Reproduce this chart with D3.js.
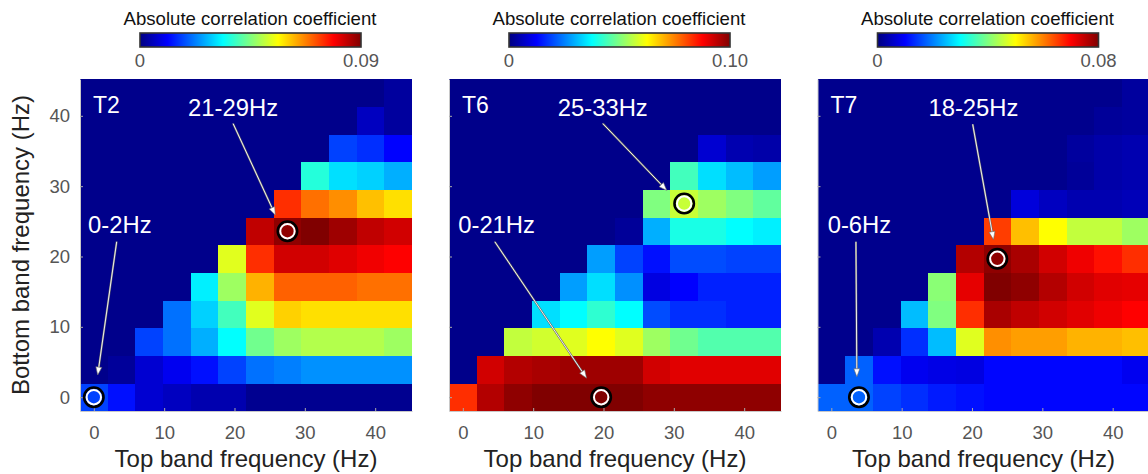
<!DOCTYPE html>
<html><head><meta charset="utf-8">
<script src="https://cdn.jsdelivr.net/npm/d3@7"></script>
<style>
body{margin:0;background:#fff}
svg text{font-family:"Liberation Sans",Arial,Helvetica,sans-serif}
</style>
</head><body>
<svg id="chart" width="1148" height="474"></svg>
<script>
// ---------- data ----------
// frequency bins (Hz), shared by both axes
const binCentersHz = [0, 3.93, 7.87, 11.8, 15.73, 19.67, 23.6, 27.53, 31.47, 35.4, 39.33, 43.27];
const xTicks = [0, 10, 20, 30, 40];
const yTicks = [0, 10, 20, 30, 40];
const panelNames = ["T2", "T6", "T7"];
const colorMax = [0.09, 0.10, 0.08];
const colorMaxLabels = ["0.09", "0.10", "0.08"];
const colorbarTitle = "Absolute correlation coefficient";
const xTitle = "Top band frequency (Hz)";
const yTitle = "Bottom band frequency (Hz)";

// matrices: rows = bottom band bin (row 0 = 0 Hz), columns = top band bin
const b = 0.001;
const valuesT2 = [
  [0.0171,0.0126,0.0072,0.0057,0.0042,0.0042,0.0014,0.0014,0.0014,0.0014,0.0014,0.0014],
  [b,0.0023,0.0072,0.0099,0.0126,0.0171,0.0212,0.0225,0.024,0.024,0.024,0.024],
  [b,b,0.0171,0.0212,0.0267,0.0338,0.0437,0.0477,0.0495,0.0495,0.0495,0.0477],
  [b,b,b,0.0212,0.0297,0.0396,0.0536,0.0603,0.059,0.059,0.059,0.059],
  [b,b,b,b,0.0324,0.0477,0.063,0.0702,0.0702,0.0702,0.0689,0.0689],
  [b,b,b,b,b,0.0536,0.0747,0.0828,0.0828,0.0815,0.080,0.0788],
  [b,b,b,b,b,b,0.0843,0.0887,0.090,0.0873,0.0843,0.0828],
  [b,b,b,b,b,b,b,0.0747,0.0689,0.0662,0.0618,0.059],
  [b,b,b,b,b,b,b,b,0.0369,0.031,0.0297,0.0267],
  [b,b,b,b,b,b,b,b,b,0.017,0.0153,0.0113],
  [b,b,b,b,b,b,b,b,b,b,0.0057,0.0027],
  [b,b,b,b,b,b,b,b,b,b,b,0.0027]
];
const valuesT6 = [
  [0.083,0.095,0.0985,0.100,0.100,0.100,0.100,0.0985,0.0985,0.0985,0.0985,0.0985],
  [b,0.092,0.095,0.096,0.097,0.097,0.097,0.092,0.0905,0.0905,0.0905,0.0905],
  [b,b,0.0565,0.058,0.0595,0.0625,0.0595,0.053,0.0485,0.0455,0.0455,0.0455],
  [b,b,b,0.0344,0.0375,0.042,0.0375,0.020,0.017,0.017,0.0156,0.0156],
  [b,b,b,b,0.028,0.0344,0.0266,0.0095,0.0125,0.0156,0.0156,0.0156],
  [b,b,b,b,b,0.028,0.019,0.014,0.020,0.020,0.019,0.019],
  [b,b,b,b,b,b,0.0025,0.0297,0.040,0.040,0.0375,0.036],
  [b,b,b,b,b,b,b,0.050,0.057,0.053,0.050,0.047],
  [b,b,b,b,b,b,b,b,0.044,0.0344,0.031,0.028],
  [b,b,b,b,b,b,b,b,b,0.008,0.0047,0.004],
  [b,b,b,b,b,b,b,b,b,b,b,b],
  [b,b,b,b,b,b,b,b,b,b,b,b]
];
const valuesT7 = [
  [0.0176,0.0176,0.0152,0.0136,0.012,0.0112,0.0104,0.0104,0.0104,0.0104,0.0104,0.0104],
  [b,0.0176,0.0112,0.0088,0.008,0.0076,0.0104,0.0104,0.0104,0.0104,0.0104,0.0088],
  [b,b,0.0038,0.0136,0.0248,0.0476,0.0588,0.0576,0.0576,0.056,0.056,0.055],
  [b,b,b,0.0248,0.040,0.0664,0.0768,0.075,0.0736,0.0724,0.0712,0.070],
  [b,b,b,b,0.0408,0.072,0.080,0.0788,0.076,0.0736,0.0724,0.072],
  [b,b,b,b,b,0.076,0.0788,0.0768,0.0736,0.0712,0.0688,0.0664],
  [b,b,b,b,b,b,0.0652,0.055,0.050,0.0452,0.0452,0.0424],
  [b,b,b,b,b,b,b,0.0072,0.005,0.0038,0.0038,0.0044],
  [b,b,b,b,b,b,b,b,b,0.002,0.0032,0.0038],
  [b,b,b,b,b,b,b,b,b,0.0024,0.0032,0.0038],
  [b,b,b,b,b,b,b,b,b,b,0.002,0.0024],
  [b,b,b,b,b,b,b,b,b,b,b,0.0024]
];
const panelValues = [valuesT2, valuesT6, valuesT7];

// annotations (text anchor, arrow start and tip in Hz; marked cell [col,row])
const annotationsT2 = [
  {label:"21-29Hz", cell:[7,6], text:[19.8,40.0], from:[19.8,38.9], to:[25.8,25.9]},
  {label:"0-2Hz",   cell:[0,0], text:[3.7,23.3],  from:[3.25,22.1], to:[0.55,3.15]}
];
const annotationsT6 = [
  {label:"25-33Hz", cell:[8,7], text:[19.9,40.0], from:[19.9,38.9], to:[29.0,29.4]},
  {label:"0-21Hz",  cell:[5,0], text:[4.8,23.4],  from:[4.55,22.1], to:[17.6,2.7]}
];
const annotationsT7 = [
  {label:"18-25Hz", cell:[6,5], text:[20.2,40.0], from:[20.1,38.8], to:[23.05,22.4]},
  {label:"0-6Hz",   cell:[1,0], text:[4.0,23.4],  from:[3.5,22.1],  to:[3.63,2.9]}
];
const panelAnnotations = [annotationsT2, annotationsT6, annotationsT7];

// ---------- layout ----------
const svg = d3.select("#chart");
const plotW = 332, plotH = 332, plotTop = 79;
const panelLefts = [80, 449, 817.5];
const halfStep = (binCentersHz[1] - binCentersHz[0]) / 2;
const domain = [binCentersHz[0] - halfStep, binCentersHz[binCentersHz.length - 1] + halfStep];

const jetStops = [0, 0.125, 0.375, 0.625, 0.875, 1];
const jetColors = ["#000080", "#0000ff", "#00ffff", "#ffff00", "#ff0000", "#800000"];

const defs = svg.append("defs");

panelNames.forEach((name, p) => {
  const left = panelLefts[p];
  const vmax = colorMax[p];
  const color = d3.scaleLinear().domain(jetStops.map(s => s * vmax)).range(jetColors).clamp(true);
  const x = d3.scaleLinear().domain(domain).range([0, plotW]);
  const y = d3.scaleLinear().domain(domain).range([plotH, 0]);

  // colorbar
  const cbX = left + 60, cbY = 33, cbW = 221, cbH = 14;
  const grad = defs.append("linearGradient").attr("id", "jet" + p).attr("x1", "0%").attr("x2", "100%");
  jetStops.forEach((s, i) => grad.append("stop").attr("offset", (s * 100) + "%").attr("stop-color", jetColors[i]));
  svg.append("rect").attr("x", cbX).attr("y", cbY).attr("width", cbW).attr("height", cbH)
    .attr("fill", `url(#jet${p})`).attr("stroke", "#333").attr("stroke-width", 1.6);
  svg.append("text").attr("x", left + 170).attr("y", 25).attr("text-anchor", "middle")
    .attr("font-size", 18.6).attr("fill", "#111").text(colorbarTitle);
  svg.append("text").attr("x", cbX).attr("y", 67).attr("text-anchor", "middle")
    .attr("font-size", 18.5).attr("fill", "#555").text("0");
  svg.append("text").attr("x", cbX + cbW).attr("y", 67).attr("text-anchor", "middle")
    .attr("font-size", 18.5).attr("fill", "#555").text(colorMaxLabels[p]);

  const g = svg.append("g").attr("transform", `translate(${left},${plotTop})`);

  // cells
  const cells = [];
  panelValues[p].forEach((row, r) => row.forEach((v, c) => cells.push({r, c, v})));
  g.append("g").selectAll("rect").data(cells).join("rect")
    .attr("x", d => x(binCentersHz[d.c] - halfStep))
    .attr("y", d => y(binCentersHz[d.r] + halfStep))
    .attr("width", d => x(binCentersHz[d.c] + halfStep) - x(binCentersHz[d.c] - halfStep) + 0.4)
    .attr("height", d => y(binCentersHz[d.r] - halfStep) - y(binCentersHz[d.r] + halfStep) + 0.4)
    .attr("fill", d => color(d.v))
    .attr("shape-rendering", "crispEdges");

  // axes
  const xa = g.append("g").attr("transform", `translate(0,${plotH})`)
    .call(d3.axisBottom(x).tickValues(xTicks).tickSizeInner(-3).tickSizeOuter(0).tickPadding(15));
  const ya = g.append("g")
    .call(d3.axisLeft(y).tickValues(yTicks).tickSizeInner(-3).tickSizeOuter(0).tickPadding(10)
      .tickFormat(p === 0 ? d3.format("d") : () => ""));
  [xa, ya].forEach(a => {
    a.select(".domain").attr("stroke", "#c8c8c8");
    a.selectAll(".tick line").attr("stroke", "#aaa");
    a.selectAll(".tick text").attr("font-size", 18.5).attr("fill", "#555")
      .attr("font-family", '"Liberation Sans",Arial,sans-serif');
  });

  // panel label
  g.append("text").attr("x", 13).attr("y", 34).attr("font-size", 23).attr("fill", "#fff").text(name);

  // annotations
  panelAnnotations[p].forEach(a => {
    const x1 = x(a.from[0]), y1 = y(a.from[1]), x2 = x(a.to[0]), y2 = y(a.to[1]);
    const ang = Math.atan2(y2 - y1, x2 - x1);
    const L = 8, W = 3;
    const bx = x2 - L * Math.cos(ang), by = y2 - L * Math.sin(ang);
    g.append("line").attr("x1", x1).attr("y1", y1).attr("x2", bx).attr("y2", by)
      .attr("stroke", "#666").attr("stroke-width", 2);
    g.append("line").attr("x1", x1).attr("y1", y1).attr("x2", bx).attr("y2", by)
      .attr("stroke", "#fff").attr("stroke-width", 0.9);
    const pts = [[x2, y2],
      [bx + W * Math.sin(ang), by - W * Math.cos(ang)],
      [bx - W * Math.sin(ang), by + W * Math.cos(ang)]];
    g.append("polygon").attr("points", pts.map(q => q.join(",")).join(" "))
      .attr("fill", "#fff").attr("stroke", "#666").attr("stroke-width", 0.6);
    g.append("text").attr("x", x(a.text[0])).attr("y", y(a.text[1])).attr("text-anchor", "middle")
      .attr("font-size", 23.8).attr("fill", "#fff").text(a.label);
    const cx = x(binCentersHz[a.cell[0]]), cy = y(binCentersHz[a.cell[1]]);
    const cv = panelValues[p][a.cell[1]][a.cell[0]];
    g.append("circle").attr("cx", cx).attr("cy", cy).attr("r", 9.7)
      .attr("fill", "none").attr("stroke", "#000").attr("stroke-width", 2.6);
    g.append("circle").attr("cx", cx).attr("cy", cy).attr("r", 7.2)
      .attr("fill", color(cv)).attr("stroke", "#fff").attr("stroke-width", 2);
  });

  // x title
  svg.append("text").attr("x", left + plotW / 2).attr("y", 467).attr("text-anchor", "middle")
    .attr("font-size", 24).attr("fill", "#222").text(xTitle);
});

// y title
svg.append("text").attr("transform", `translate(29,${plotTop + plotH / 2}) rotate(-90)`)
  .attr("text-anchor", "middle").attr("font-size", 24).attr("fill", "#222").text(yTitle);
</script>
</body></html>
